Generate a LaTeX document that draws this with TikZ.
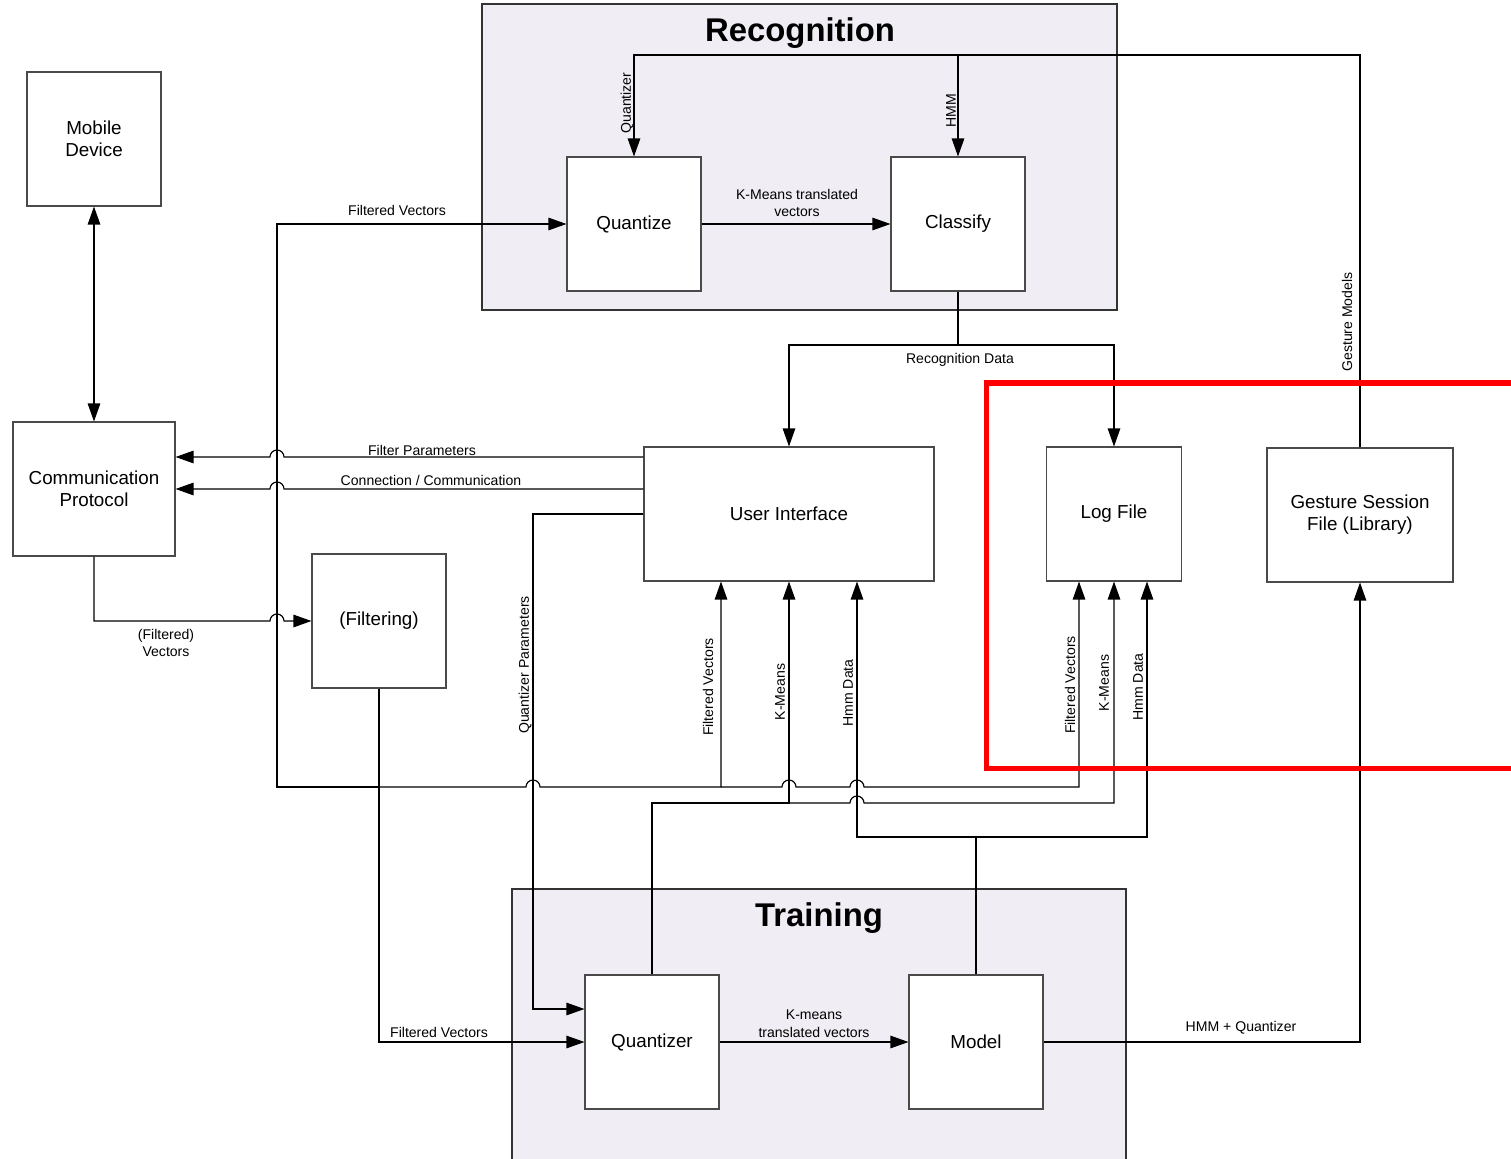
\documentclass[tikz,border=0pt]{standalone}
\usepackage{fontspec}
\setmainfont{Liberation Sans}
\usetikzlibrary{arrows.meta}
\definecolor{regionfill}{HTML}{F0EEF4}
\definecolor{boxline}{HTML}{4A4A4A}
\begin{document}
\begin{tikzpicture}[x=0.2mm, y=-0.2mm,
  block/.style={draw=boxline, fill=white, line width=0.6pt, minimum width=26.8mm,
    minimum height=26.8mm, inner sep=0pt, align=center,
    font=\fontsize{10.7}{12.5}\selectfont},
  region/.style={draw=black!80, fill=regionfill, line width=1.1pt},
  title/.style={font=\fontsize{18.7}{22}\selectfont\bfseries},
  lbl/.style={font=\fontsize{8}{10.2}\selectfont, align=center, inner sep=0pt},
  vlbl/.style={lbl, rotate=90},
  wire/.style={draw=black, line width=0.65pt},
  arr/.style={wire, -{Triangle[length=3.6mm,width=2.5mm]}}]
  \useasboundingbox (0,0) rectangle (1511,1159);

  % regions
  \draw[region] (482,4) rectangle (1117,310);
  \node[title] (rectitle) at (800,33) {Recognition};
  \draw[region] (512,889) rectangle (1126,1175);
  \node[title] (traintitle) at (819,918) {Training};

  % blocks
  \node[block] (mobile) at (94,139) {Mobile\\Device};
  \node[block, minimum width=32.4mm] (comm) at (94,489) {Communication\\Protocol};
  \node[block] (quantize) at (634,224) {Quantize};
  \node[block] (classify) at (958,224) {Classify};
  \node[block, minimum width=58mm] (ui) at (789,514) {User Interface};
  \node[block, minimum width=27mm] (logfile) at (1114,514) {Log File};
  \node[block, minimum width=37.2mm] (gesture) at (1360,515) {Gesture Session\\File (Library)};
  \node[block] (filtering) at (379,621) {(Filtering)};
  \node[block] (tquant) at (652,1042) {Quantizer};
  \node[block] (model) at (976,1042) {Model};

  % recognition
  \draw[wire, {Triangle[length=3.6mm,width=2.5mm]}-{Triangle[length=3.6mm,width=2.5mm]}] (mobile) -- (comm);
  \draw[arr] (quantize) -- (classify);
  \node[lbl] (lkmt) at (797,203) {K-Means translated\\vectors};
  \draw[arr] (gesture.north) -- (1360,55) -| (quantize.north);
  \draw[arr] (classify.north |- 0,55) -- (classify.north);
  \node[vlbl] (lgm) at (1347,322) {Gesture Models};
  \node[vlbl] (lqz) at (627,103) {Quantizer};
  \node[vlbl] (lhmm) at (951,111) {HMM};
  \draw[arr] (classify.south) -- (958,345) -| (ui.north);
  \draw[arr] (958,345) -| (logfile.north);
  \node[lbl] (lrd) at (960,360) {Recognition Data};

  % user interface to comm
  \draw[arr] (ui.west |- 0,457) -- (284,457) arc[start angle=0, end angle=180, radius=1.4mm]
    -- (comm.east |- 0,457);
  \node[lbl] (lfp) at (422,450) {Filter Parameters};
  \draw[arr] (ui.west |- 0,489) -- (284,489) arc[start angle=0, end angle=180, radius=1.4mm]
    -- (comm.east |- 0,489);
  \node[lbl] (lcc) at (431,480) {Connection / Communication};
  \draw[arr] (ui.west |- 0,514) -| (533,1009) -- (tquant.west |- 0,1009);
  \node[vlbl] (lqp) at (525,665) {Quantizer Parameters};

  % filtering
  \draw[arr] (comm.south) |- (270,621) arc[start angle=180, end angle=0, radius=1.4mm]
    -- (filtering.west);
  \node[lbl] (lfvc) at (166,643) {(Filtered)\\Vectors};
  \draw[arr] (filtering.south) |- (tquant.west);
  \node[lbl] (lfvt) at (439,1032) {Filtered Vectors};
  \draw[arr] (filtering.south |- 0,787) -- (277,787) |- (quantize.west);
  \node[lbl] (lfvq) at (397,210) {Filtered Vectors};
  \draw[arr] (filtering.south |- 0,787) -- (526,787) arc[start angle=180, end angle=0, radius=1.4mm]
    -| (ui.south -| 721,0);
  \draw[arr] (721,787) -- (782,787) arc[start angle=180, end angle=0, radius=1.4mm]
    -- (850,787) arc[start angle=180, end angle=0, radius=1.4mm]
    -| (logfile.south -| 1079,0);
  \node[vlbl] (lfvu) at (708,687) {Filtered Vectors};
  \node[vlbl] (lfvl) at (1070,685) {Filtered Vectors};

  % training outputs
  \draw[arr] (tquant.north) |- (789,803) -- (ui.south);
  \draw[arr] (789,803) -- (850,803) arc[start angle=180, end angle=0, radius=1.4mm]
    -| (logfile.south);
  \node[vlbl] (lkmu) at (780,692) {K-Means};
  \node[vlbl] (lkml) at (1104,683) {K-Means};
  \draw[arr] (model.north) |- (857,837) -- (ui.south -| 857,0);
  \draw[arr] (976,837) -| (logfile.south -| 1147,0);
  \node[vlbl] (lhdu) at (848,693) {Hmm Data};
  \node[vlbl] (lhdl) at (1138,687) {Hmm Data};
  \draw[arr] (tquant) -- (model);
  \node[lbl] (lkmtt) at (814,1024) {K-means\\translated vectors};
  \draw[arr] (model.east) -| (gesture.south);
  \node[lbl] (lhq) at (1241,1028) {HMM + Quantizer};

  % highlight
  \draw[red, line width=2.85pt] (986,383) rectangle (1540,768);
\end{tikzpicture}
\end{document}
